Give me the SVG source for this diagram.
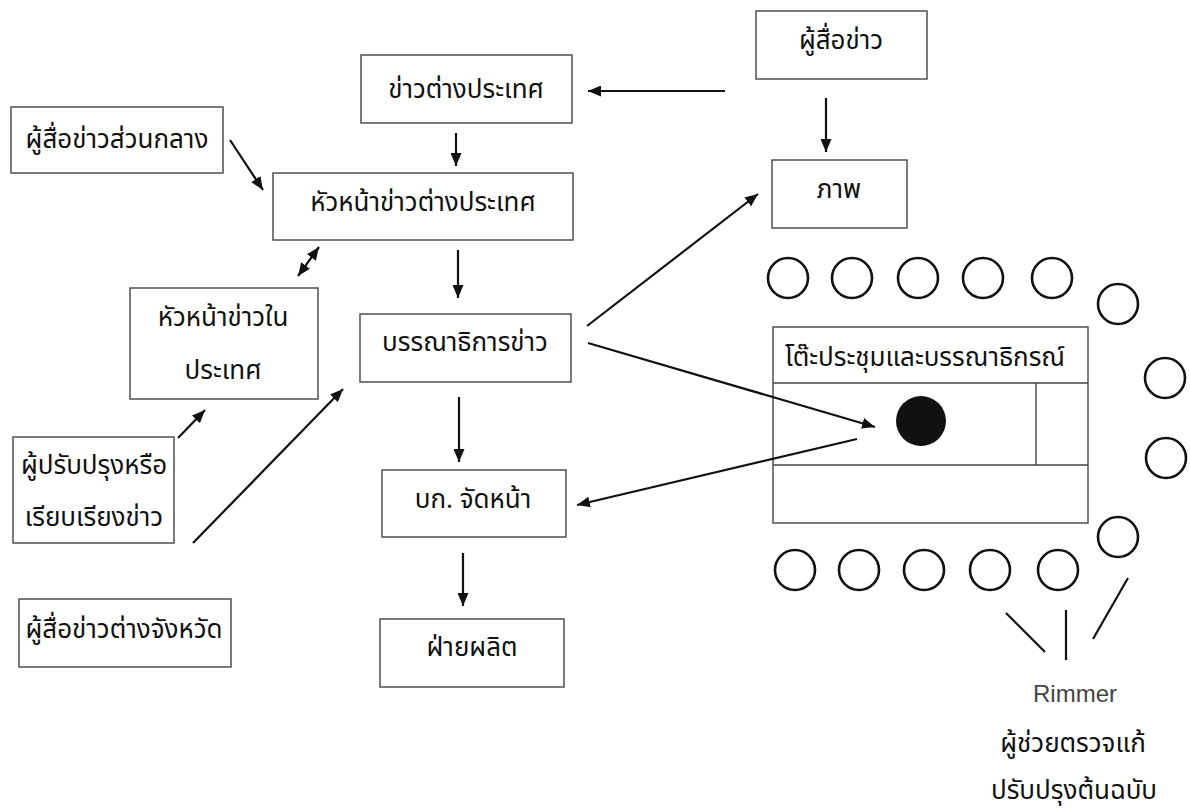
<svg xmlns="http://www.w3.org/2000/svg" width="1190" height="809" viewBox="0 0 1190 809">
<defs>
<marker id="ah" viewBox="0 0 13 11" refX="13" refY="5.5" markerWidth="13" markerHeight="11" markerUnits="userSpaceOnUse" orient="auto-start-reverse">
<path d="M0,0 L13,5.5 L0,11 Z" fill="#111"/>
</marker>
<style>
.box{fill:#fff;stroke:#444;stroke-width:1.4}
.t{font-family:"Noto Sans Thai","Noto Sans","DejaVu Sans","Liberation Sans",sans-serif;font-size:26px;fill:#111;text-anchor:middle}
.c{stroke:#111;stroke-width:2.2;fill:none}
.seat{fill:#fff;stroke:#111;stroke-width:2.6}
</style>
</defs>
<rect width="1190" height="809" fill="#fff"/>
<g id="n-reporter-central"><rect class="box" x="11" y="107" width="212" height="66"/><text class="t" x="117" y="148">ผู้สื่อข่าวส่วนกลาง</text></g>
<g id="n-foreign-news"><rect class="box" x="361" y="55" width="211" height="68"/><text class="t" x="466" y="98">ข่าวต่างประเทศ</text></g>
<g id="n-foreign-chief"><rect class="box" x="273" y="173" width="300" height="67"/><text class="t" x="423" y="211">หัวหน้าข่าวต่างประเทศ</text></g>
<g id="n-reporter"><rect class="box" x="756" y="11" width="171" height="68"/><text class="t" x="841" y="49">ผู้สื่อข่าว</text></g>
<g id="n-photo"><rect class="box" x="772" y="160" width="135" height="68"/><text class="t" x="839" y="198">ภาพ</text></g>
<g id="n-domestic-chief"><rect class="box" x="130" y="288" width="188" height="111"/><text class="t" x="223" y="326">หัวหน้าข่าวใน</text><text class="t" x="223" y="379">ประเทศ</text></g>
<g id="n-news-editor"><rect class="box" x="360" y="314" width="211" height="68"/><text class="t" x="465" y="351">บรรณาธิการข่าว</text></g>
<g id="n-layout-editor"><rect class="box" x="382" y="470" width="184" height="67"/><text class="t" x="473" y="508">บก. จัดหน้า</text></g>
<g id="n-production"><rect class="box" x="380" y="619" width="184" height="68"/><text class="t" x="472" y="656">ฝ่ายผลิต</text></g>
<g id="n-rewriter"><rect class="box" x="13" y="437" width="161" height="106"/><text class="t" x="94" y="474">ผู้ปรับปรุงหรือ</text><text class="t" x="94" y="526">เรียบเรียงข่าว</text></g>
<g id="n-reporter-provincial"><rect class="box" x="19" y="599" width="212" height="68"/><text class="t" x="124" y="638">ผู้สื่อข่าวต่างจังหวัด</text></g>
<g id="n-table">
<rect class="box" x="773" y="327" width="315" height="196"/>
<line x1="773" y1="383" x2="1088" y2="383" stroke="#444" stroke-width="1.4"/>
<line x1="773" y1="465" x2="1088" y2="465" stroke="#444" stroke-width="1.4"/>
<line x1="1036" y1="383" x2="1036" y2="465" stroke="#444" stroke-width="1.4"/>
<text class="t" x="925" y="366">โต๊ะประชุมและบรรณาธิกรณ์</text>
<circle cx="921" cy="421" r="25" fill="#111"/>
</g>
<g id="n-seats">
<circle class="seat" cx="788" cy="278" r="20"/><circle class="seat" cx="852" cy="278" r="20"/><circle class="seat" cx="918" cy="278" r="20"/><circle class="seat" cx="983" cy="278" r="20"/><circle class="seat" cx="1052" cy="278" r="20"/>
<circle class="seat" cx="1118" cy="304" r="20"/><circle class="seat" cx="1165" cy="378" r="20"/><circle class="seat" cx="1166" cy="458" r="20"/><circle class="seat" cx="1118" cy="537" r="20"/>
<circle class="seat" cx="795" cy="570" r="20"/><circle class="seat" cx="859" cy="570" r="20"/><circle class="seat" cx="924" cy="570" r="20"/><circle class="seat" cx="990" cy="570" r="20"/><circle class="seat" cx="1058" cy="570" r="20"/>
</g>
<g id="n-rimmer">
<line class="c" x1="1006" y1="613" x2="1045" y2="652" stroke-width="2.6"/>
<line class="c" x1="1066" y1="610" x2="1066" y2="660" stroke-width="2.6"/>
<line class="c" x1="1128" y1="578" x2="1093" y2="639" stroke-width="2.6"/>
<text x="1075" y="702" font-family="Liberation Sans, Arial, sans-serif" font-size="24" fill="#444" text-anchor="middle">Rimmer</text>
<text class="t" x="1073" y="752">ผู้ช่วยตรวจแก้</text>
<text class="t" x="1074" y="799">ปรับปรุงต้นฉบับ</text>
</g>
<g id="connectors">
<line class="c" x1="725" y1="91" x2="588" y2="91" marker-end="url(#ah)"/>
<line class="c" x1="826" y1="98" x2="826" y2="152" marker-end="url(#ah)"/>
<line class="c" x1="456" y1="133" x2="456" y2="166" marker-end="url(#ah)"/>
<line class="c" x1="230" y1="140" x2="263" y2="190" marker-end="url(#ah)"/>
<line class="c" x1="458" y1="250" x2="458" y2="298" marker-end="url(#ah)"/>
<line class="c" x1="298" y1="276" x2="319" y2="247" marker-start="url(#ah)" marker-end="url(#ah)"/>
<line class="c" x1="178" y1="438" x2="205" y2="410" marker-end="url(#ah)"/>
<line class="c" x1="193" y1="543" x2="343" y2="389" marker-end="url(#ah)"/>
<line class="c" x1="587" y1="326" x2="758" y2="194" marker-end="url(#ah)"/>
<line class="c" x1="588" y1="343" x2="875" y2="427" marker-end="url(#ah)"/>
<line class="c" x1="857" y1="439" x2="577" y2="505" marker-end="url(#ah)"/>
<line class="c" x1="459" y1="397" x2="459" y2="462" marker-end="url(#ah)"/>
<line class="c" x1="463" y1="553" x2="463" y2="606" marker-end="url(#ah)"/>
</g>
</svg>
